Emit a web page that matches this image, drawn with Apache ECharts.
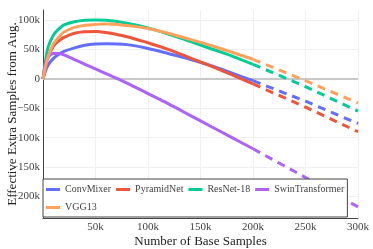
<!DOCTYPE html>
<html><head><meta charset="utf-8">
<script src="https://cdn.jsdelivr.net/npm/echarts@6/dist/echarts.min.js"></script>
<style>html,body{margin:0;padding:0;background:#fff}#c{width:373px;height:249px}</style>
</head><body><div id="c"></div>
<script>
// values in thousands of samples
const names = ['ConvMixer','PyramidNet','ResNet-18','SwinTransformer','VGG13'];
const colors = ['#636efa','#EF553B','#00cc96','#ab63fa','#FFA15A'];
const xSolid = [0,2.5,5,10,15,20,30,40,50,60,80,100,120,140,160,180,200];
const convMixerSolid = [0,14,24,35,42,47,53,57.5,59.5,60,58.5,52,43,33.5,22.5,10,-3];
const pyramidNetSolid = [0,22,38,56,65,71,78,80.5,81,79,72,61.5,50,36,22,7,-8.5];
const resNet18Solid = [0,32,55,75,85,92,97.5,100,100.5,100,95,87,76,64,51.5,39,25];
const swinSolid = [0,28,38,43.5,43.5,41,33,25,17,9,-7,-25,-43,-62,-81,-100,-119];
const vgg13Solid = [0,22,39,60,71,80,88,91.5,93,93.5,91,86,77.5,67.5,57,45.5,33.5];
const xDash = [200,250,300];
const convMixerDash = [-3,-38,-76];
const pyramidNetDash = [-8.5,-48,-90];
const resNet18Dash = [25,-13,-55];
const swinDash = [-119,-168,-218];
const vgg13Dash = [33.5,-3,-41];
const xTicks = [50,100,150,200,250,300];
const yTicks = [-200,-150,-100,-50,0,50,100];

const solids = [convMixerSolid, pyramidNetSolid, resNet18Solid, swinSolid, vgg13Solid];
const dashes = [convMixerDash, pyramidNetDash, resNet18Dash, swinDash, vgg13Dash];
const FONT = 'Liberation Serif';
const fmt = v => v === 0 ? '0' : (v < 0 ? '\u2212' + (-v) : v) + 'k';

const series = [];
names.forEach((n, i) => {
  series.push({
    name: n, type: 'line', showSymbol: false, smooth: 0.35, color: colors[i],
    lineStyle: {width: 3, color: colors[i]},
    data: xSolid.map((x, j) => [x, solids[i][j]]),
    z: 3,
    markLine: i === 0 ? {silent: true, symbol: 'none', label: {show: false},
      lineStyle: {color: '#c8c8c8', width: 2, type: 'solid'}, data: [{yAxis: 0}], z: 1} : undefined
  });
  series.push({
    name: n, type: 'line', showSymbol: false, color: colors[i],
    lineStyle: {width: 3, color: colors[i], type: [8, 6]},
    data: xDash.map((x, j) => [x, dashes[i][j]]),
    z: 3
  });
});

const chart = echarts.init(document.getElementById('c'), null, {renderer: 'canvas'});
chart.setOption({
  animation: false,
  textStyle: {fontFamily: FONT},
  grid: {left: 43, right: 15, top: 10, bottom: 31, containLabel: false, outerBoundsMode: 'none'},
  xAxis: {
    type: 'value', min: 0, max: 300, interval: 50,
    name: 'Number of Base Samples', nameLocation: 'middle', nameGap: 17, nameMoveOverlap: false,
    nameTextStyle: {fontFamily: FONT, fontSize: 13, color: '#222'},
    axisLine: {show: true, onZero: false, lineStyle: {color: '#444', width: 1}},
    axisTick: {show: false},
    axisLabel: {showMinLabel: false, fontFamily: FONT, fontSize: 11, color: '#444', margin: 4, formatter: fmt},
    splitLine: {show: true, lineStyle: {color: '#f0f0f0', width: 1}}
  },
  yAxis: {
    type: 'value', min: -237, max: 117.5,
    name: 'Effective Extra Samples from Aug.', nameLocation: 'middle', nameGap: 24, nameMoveOverlap: false,
    nameTextStyle: {fontFamily: FONT, fontSize: 13, color: '#222'},
    axisLine: {show: true, onZero: false, lineStyle: {color: '#444', width: 1}},
    axisTick: {show: false, customValues: yTicks},
    axisLabel: {customValues: yTicks, fontFamily: FONT, fontSize: 11, color: '#444', margin: 3, formatter: fmt},
    splitLine: {show: true, lineStyle: {color: '#f0f0f0', width: 1}}
  },
  legend: {
    data: names, left: 43, top: 179, width: 310,
    orient: 'horizontal', icon: 'rect', itemWidth: 14, itemHeight: 3, itemGap: 5,
    padding: [4, 3, 3, 3], backgroundColor: '#fff', borderColor: '#444', borderWidth: 1,
    textStyle: {fontFamily: FONT, fontSize: 10, color: '#444', lineHeight: 13}
  },
  series: series
});
</script></body></html>
